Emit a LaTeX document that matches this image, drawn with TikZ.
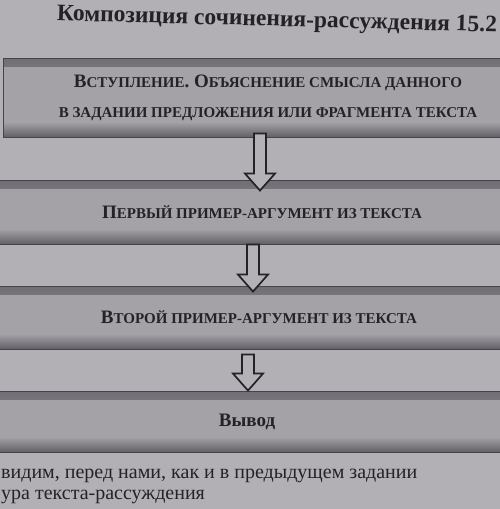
\documentclass[tikz,border=0pt]{standalone}
\usepackage{fontspec}
\setmainfont{Liberation Serif}
\usetikzlibrary{calc}
\definecolor{pagebg}{RGB}{178,176,181}
\definecolor{boxmid}{RGB}{164,161,167}
\definecolor{boxedge}{RGB}{70,68,74}
\definecolor{shadetop}{RGB}{112,110,116}
\definecolor{shadebot}{RGB}{98,96,102}
\definecolor{ink}{RGB}{36,34,38}
\definecolor{arrowfill}{RGB}{180,178,183}
\newcommand\scx[1]{{\fontsize{15}{17}\selectfont\MakeUppercase{#1}}}
\newcommand\blockarr[5]{% from, to, x, start offset, tip offset
  \draw[hollowarrow] let \p1=(#1.south), \p2=(#2.north) in
    (#3-6pt,\y1+#4) -- (#3+6pt,\y1+#4) -- (#3+6pt,\y2+#5+17pt) -- (#3+15pt,\y2+#5+17pt)
    -- (#3,\y2+#5) -- (#3-15pt,\y2+#5+17pt) -- (#3-6pt,\y2+#5+17pt) -- cycle;}
\tikzset{
  stagebox/.style={fill=boxmid, draw=boxedge, line width=0.9pt, minimum width=530pt,
    minimum height=#1, inner sep=0pt, text=ink, font=\fontsize{19}{27}\selectfont\bfseries, align=center,
    path picture={
      \shade[top color=shadetop, bottom color=boxmid]
        (path picture bounding box.north west) rectangle ([yshift=-8pt]path picture bounding box.north east);
      \shade[top color=boxmid, bottom color=shadebot]
        ([yshift=15pt]path picture bounding box.south west) rectangle (path picture bounding box.south east);
    }},
  hollowarrow/.style={fill=arrowfill, draw=ink, line width=1.7pt, line join=miter},
  titletext/.style={text=ink, font=\fontsize{23.5}{26}\selectfont\bfseries},
  bodytext/.style={text=ink, font=\fontsize{20}{21}\selectfont, align=left, inner sep=0pt}
}
\begin{document}
\begin{tikzpicture}[x=1pt, y=-1pt]
  \useasboundingbox (0,0) rectangle (500,509);
  \clip (0,0) rectangle (500,509);
  \fill[pagebg] (0,0) rectangle (500,509);
  \node[titletext, rotate=-1.5] (title) at (277,21) {Композиция сочинения-рассуждения 15.2};
  \node[stagebox=79pt] (b1) at (268,97.5)
    {\raisebox{-5pt}{\begin{tabular}{@{}c@{}}В\scx{ступление}. О\scx{бъяснение смысла данного}\\[3pt]
     \scx{в задании предложения или фрагмента текста}\end{tabular}}};
  \node[stagebox=64pt] (b2) at (262,212) {П\scx{ервый пример-аргумент из текста}};
  \node[stagebox=63pt] (b3) at (259,317.5) {\raisebox{-3pt}{В\scx{торой пример-аргумент из текста}}};
  \node[stagebox=61pt] (b4) at (247,421.5) {\raisebox{-3pt}{Вывод}};
  \blockarr{b1}{b2}{260}{4pt}{-11pt}
  \blockarr{b2}{b3}{253}{0pt}{-6pt}
  \blockarr{b3}{b4}{248}{-5pt}{0pt}
  \node[bodytext, anchor=north west] (t1) at (1,469)
    {видим, перед нами, как и в предыдущем задании\\ура текста-рассуждения};
\end{tikzpicture}
\end{document}
